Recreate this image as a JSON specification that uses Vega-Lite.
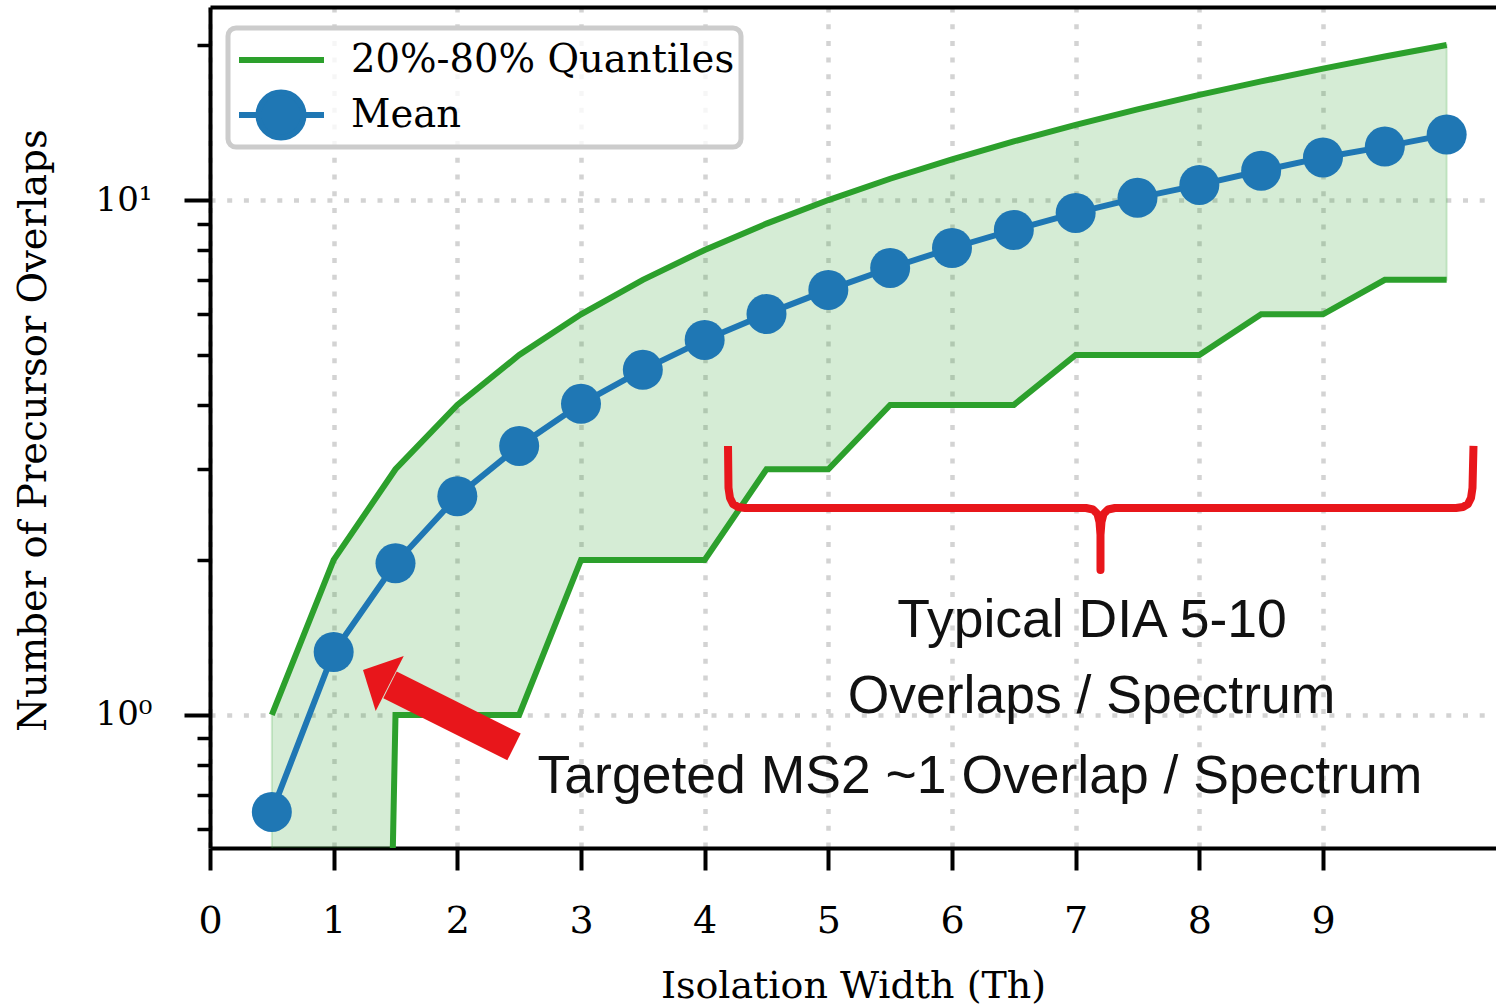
{
  "$schema": "https://vega.github.io/schema/vega-lite/v6.json",
  "width": 1286,
  "height": 841,
  "autosize": {"type": "none"},
  "padding": {"left": 210, "top": 7, "right": 0, "bottom": 157},
  "background": "white",
  "config": {"view": {"stroke": null}},
  "datasets": {
    "main": [
      {"x": 0.5, "lower": 0.000001, "upper": 1, "mean": 0.648},
      {"x": 1.0, "lower": 0.000001, "upper": 2, "mean": 1.325},
      {"x": 1.5, "lower": 1, "upper": 3, "mean": 1.97},
      {"x": 2.0, "lower": 1, "upper": 4, "mean": 2.66},
      {"x": 2.5, "lower": 1, "upper": 5, "mean": 3.33},
      {"x": 3.0, "lower": 2, "upper": 6, "mean": 4.02},
      {"x": 3.5, "lower": 2, "upper": 7, "mean": 4.68},
      {"x": 4.0, "lower": 2, "upper": 8, "mean": 5.35},
      {"x": 4.5, "lower": 3, "upper": 9, "mean": 6.01},
      {"x": 5.0, "lower": 3, "upper": 10, "mean": 6.69},
      {"x": 5.5, "lower": 4, "upper": 11, "mean": 7.38},
      {"x": 6.0, "lower": 4, "upper": 12, "mean": 8.07},
      {"x": 6.5, "lower": 4, "upper": 13, "mean": 8.75},
      {"x": 7.0, "lower": 5, "upper": 14, "mean": 9.44},
      {"x": 7.5, "lower": 5, "upper": 15, "mean": 10.1},
      {"x": 8.0, "lower": 5, "upper": 16, "mean": 10.7},
      {"x": 8.5, "lower": 6, "upper": 17, "mean": 11.4},
      {"x": 9.0, "lower": 6, "upper": 18, "mean": 12.1},
      {"x": 9.5, "lower": 7, "upper": 19, "mean": 12.7},
      {"x": 10.0, "lower": 7, "upper": 20, "mean": 13.4}
    ],
    "brace": [
      {"order": 1, "x": 4.1887, "y": 3.3297},
      {"order": 2, "x": 4.1927, "y": 2.7594},
      {"order": 3, "x": 4.2049, "y": 2.6384},
      {"order": 4, "x": 4.2291, "y": 2.5685},
      {"order": 5, "x": 4.2695, "y": 2.5343},
      {"order": 6, "x": 4.3261, "y": 2.5231},
      {"order": 7, "x": 7.0835, "y": 2.5231},
      {"order": 8, "x": 7.1401, "y": 2.5062},
      {"order": 9, "x": 7.1765, "y": 2.4563},
      {"order": 10, "x": 7.1927, "y": 2.3706},
      {"order": 11, "x": 7.2008, "y": 2.2362},
      {"order": 12, "x": 7.2008, "y": 1.9123},
      {"order": 13, "x": 7.2008, "y": 2.2362},
      {"order": 14, "x": 7.2089, "y": 2.3706},
      {"order": 15, "x": 7.2251, "y": 2.4563},
      {"order": 16, "x": 7.2615, "y": 2.5062},
      {"order": 17, "x": 7.3181, "y": 2.5231},
      {"order": 18, "x": 10.0755, "y": 2.5231},
      {"order": 19, "x": 10.1321, "y": 2.5343},
      {"order": 20, "x": 10.1725, "y": 2.5685},
      {"order": 21, "x": 10.1968, "y": 2.6384},
      {"order": 22, "x": 10.2089, "y": 2.7594},
      {"order": 23, "x": 10.2170, "y": 3.3297}
    ],
    "arrowShaft": [
      {"order": 1, "x": 2.4582, "y": 0.8667},
      {"order": 2, "x": 1.4555, "y": 1.1437}
    ],
    "arrowHead": [
      {"x": 1.2372, "y": 1.2229}
    ],
    "notes": [
      {"x": 7.132, "y": 1.4172, "label": "Typical DIA 5-10"},
      {"x": 7.128, "y": 1.0067, "label": "Overlaps / Spectrum"},
      {"x": 6.226, "y": 0.7056, "label": "Targeted MS2 ~1 Overlap / Spectrum"}
    ]
  },
  "resolve": {"axis": {"x": "independent", "y": "independent"}},
  "layer": [
    {
      "data": {"name": "main"},
      "mark": {"type": "area", "clip": true, "fill": "#2ca02c", "fillOpacity": 0.2, "stroke": "#2ca02c", "strokeOpacity": 0.2, "strokeWidth": 2},
      "encoding": {
        "x": {
          "field": "x", "type": "quantitative",
          "scale": {"domain": [0, 10.399], "nice": false, "zero": false},
          "axis": {
            "orient": "bottom", "values": [0, 1, 2, 3, 4, 5, 6, 7, 8, 9], "format": "d",
            "domainColor": "black", "domainWidth": 4,
            "tickColor": "black", "tickWidth": 4, "tickSize": 22,
            "labelFont": "DejaVu Serif", "labelFontSize": 38, "labelColor": "black",
            "labelBaseline": "alphabetic", "labelPadding": 62, "labelFlush": false, "labelOverlap": false,
            "grid": true, "gridColor": "#d3d3d3", "gridWidth": 4.5, "gridDash": [5, 11.7],
            "title": "Isolation Width (Th)", "titleFont": "DejaVu Serif", "titleFontSize": 38,
            "titleFontWeight": "normal", "titleColor": "black", "titleY": 149, "titleBaseline": "alphabetic"
          }
        },
        "y": {
          "field": "upper", "type": "quantitative",
          "scale": {"type": "log", "domain": [0.5515, 23.71], "nice": false, "zero": false},
          "axis": {
            "orient": "left", "values": [1, 10],
            "labelExpr": "datum.value == 1 ? '10⁰' : '10¹'",
            "domainColor": "black", "domainWidth": 4,
            "tickColor": "black", "tickWidth": 4, "tickSize": 26,
            "labelFont": "DejaVu Serif", "labelFontSize": 34, "labelColor": "black",
            "labelPadding": 32, "labelBaseline": "middle", "labelFlush": false, "labelOverlap": false,
            "grid": true, "gridColor": "#d3d3d3", "gridWidth": 4.5, "gridDash": [5, 11.7],
            "title": "Number of Precursor Overlaps", "titleFont": "DejaVu Serif", "titleFontSize": 38.5,
            "titleFontWeight": "normal", "titleColor": "black",
            "titleX": -165, "titleY": 423, "titleAngle": 270, "titleBaseline": "alphabetic", "titleAlign": "center"
          }
        },
        "y2": {"field": "lower"}
      }
    },
    {
      "data": {"name": "main"},
      "mark": {"type": "line", "clip": true, "strokeWidth": 6},
      "encoding": {
        "x": {"field": "x", "type": "quantitative",
          "axis": {"orient": "top", "domain": true, "domainColor": "black", "domainWidth": 4, "ticks": false, "labels": false, "grid": false, "title": null}},
        "y": {"field": "upper", "type": "quantitative", "axis": null},
        "color": {
          "datum": "20%-80% Quantiles", "type": "nominal",
          "scale": {"domain": ["20%-80% Quantiles", "Mean"], "range": ["#2ca02c", "#1f77b4"]},
          "legend": {
            "title": null, "orient": "none", "legendX": 18, "legendY": 21,
            "padding": 6, "fillColor": "rgba(255,255,255,0.8)", "strokeColor": "#cccccc", "cornerRadius": 8,
            "labelFont": "DejaVu Serif", "labelFontSize": 38.5, "labelColor": "black", "labelOffset": 71, "labelLimit": 700,
            "clipHeight": 52, "rowPadding": 3, "symbolSize": 1600,
            "encode": {
              "legend": {"update": {"strokeWidth": {"value": 5}}},
              "symbols": {
                "update": {
                  "shape": {"signal": "datum.value === 'Mean' ? 'M-0.9,0H3.35M2.325,0A1.125,1.125,0,1,1,0.075,0A1.125,1.125,0,1,1,2.325,0Z' : 'M-0.9,0H3.35'"},
                  "fill": {"signal": "datum.value === 'Mean' ? '#1f77b4' : 'transparent'"},
                  "stroke": {"signal": "datum.value === 'Mean' ? '#1f77b4' : '#2ca02c'"},
                  "strokeWidth": {"value": 6},
                  "opacity": {"value": 1}
                }
              }
            }
          }
        }
      }
    },
    {
      "data": {"name": "main"},
      "mark": {"type": "line", "clip": true, "strokeWidth": 6},
      "encoding": {
        "x": {"field": "x", "type": "quantitative", "axis": null},
        "y": {"field": "lower", "type": "quantitative",
          "axis": {"orient": "left", "values": [0.6, 0.7, 0.8, 0.9, 2, 3, 4, 5, 6, 7, 8, 9, 20],
            "tickSize": 13, "tickWidth": 3.5, "tickColor": "black", "labels": false, "domain": false, "grid": false, "title": null}},
        "color": {"datum": "20%-80% Quantiles", "type": "nominal"}
      }
    },
    {
      "data": {"name": "main"},
      "mark": {"type": "line", "clip": true, "strokeWidth": 6, "point": {"filled": true, "size": 1600, "opacity": 1}},
      "encoding": {
        "x": {"field": "x", "type": "quantitative", "axis": null},
        "y": {"field": "mean", "type": "quantitative", "axis": null},
        "color": {"datum": "Mean", "type": "nominal"}
      }
    },
    {
      "data": {"name": "brace"},
      "mark": {"type": "line", "clip": false, "stroke": "#e8161b", "strokeWidth": 8, "strokeJoin": "round", "strokeCap": "butt"},
      "encoding": {
        "x": {"field": "x", "type": "quantitative", "axis": null},
        "y": {"field": "y", "type": "quantitative", "axis": null},
        "order": {"field": "order", "type": "quantitative"}
      }
    },
    {
      "data": {"name": "arrowShaft"},
      "mark": {"type": "line", "clip": false, "stroke": "#e8161b", "strokeWidth": 30, "strokeCap": "butt"},
      "encoding": {
        "x": {"field": "x", "type": "quantitative", "axis": null},
        "y": {"field": "y", "type": "quantitative", "axis": null},
        "order": {"field": "order", "type": "quantitative"}
      }
    },
    {
      "data": {"name": "arrowHead"},
      "mark": {"type": "point", "shape": "M0,0L1.03,1L-1.03,1Z", "size": 3600, "angle": -63, "filled": true, "fill": "#e8161b", "opacity": 1},
      "encoding": {
        "x": {"field": "x", "type": "quantitative", "axis": null},
        "y": {"field": "y", "type": "quantitative", "axis": null}
      }
    },
    {
      "data": {"name": "notes"},
      "mark": {"type": "text", "font": "Liberation Sans", "fontSize": 53.5, "fill": "#111111", "align": "center", "baseline": "alphabetic"},
      "encoding": {
        "x": {"field": "x", "type": "quantitative", "axis": null},
        "y": {"field": "y", "type": "quantitative", "axis": null},
        "text": {"field": "label"}
      }
    }
  ]
}
